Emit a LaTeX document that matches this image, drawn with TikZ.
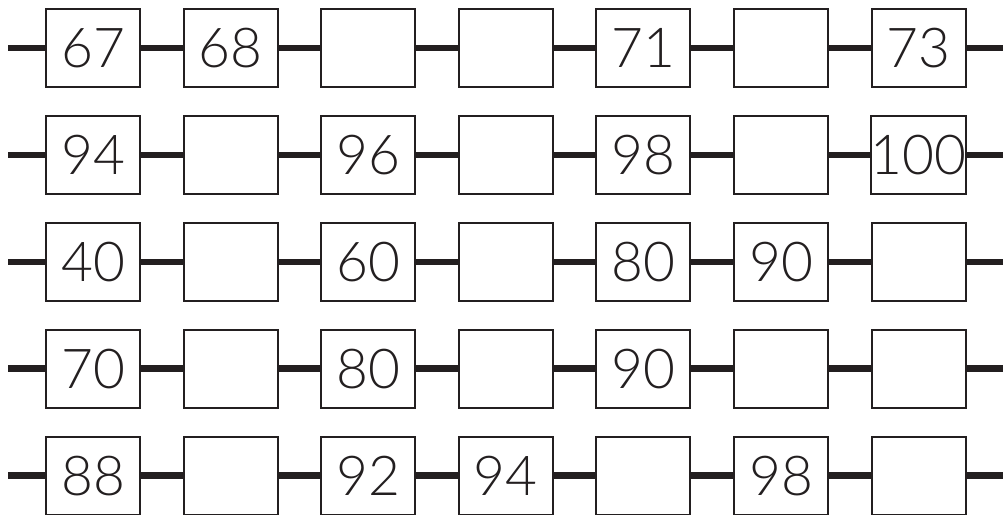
\documentclass[tikz,border=0pt]{standalone}
\usepackage{fontspec}
\setmainfont{Lato}[UprightFont=* Light]
\usetikzlibrary{positioning}
\definecolor{InkBlack}{RGB}{35,31,32}

\begin{document}
\begin{tikzpicture}[
x=1pt,y=-1pt,
numbox/.style={rectangle,draw=InkBlack,line width=2pt,fill=white,
minimum width=94pt,minimum height=78pt,inner sep=0pt,
font=\fontsize{55}{55}\selectfont,text=InkBlack},
link/.style={line width=6.5pt,draw=InkBlack}
]
\useasboundingbox (0,0) rectangle (1003,514);
\foreach \labels [count=\r] in {
{67,68,{},{},71,{},73},
{94,{},96,{},98,{},100},
{40,{},60,{},80,90,{}},
{70,{},80,{},90,{},{}},
{88,{},92,94,{},98,{}}}{
  % boxes of one row
  \foreach \t [count=\c] in \labels
    \node[numbox] (b-\r-\c) at ({93+(\c-1)*137.6},{48+(\r-1)*106.9}) {\t};
  \coordinate (in-\r) at (8,{48+(\r-1)*106.9});
  \coordinate (out-\r) at (1003,{48+(\r-1)*106.9});
  \draw[link] (in-\r) -- (b-\r-1.west);
  \foreach \c [evaluate=\c as \n using int(\c+1)] in {1,...,6}
    \draw[link] (b-\r-\c.east) -- (b-\r-\n.west);
  \draw[link] (b-\r-7.east) -- (out-\r);
}
\end{tikzpicture}
\end{document}
